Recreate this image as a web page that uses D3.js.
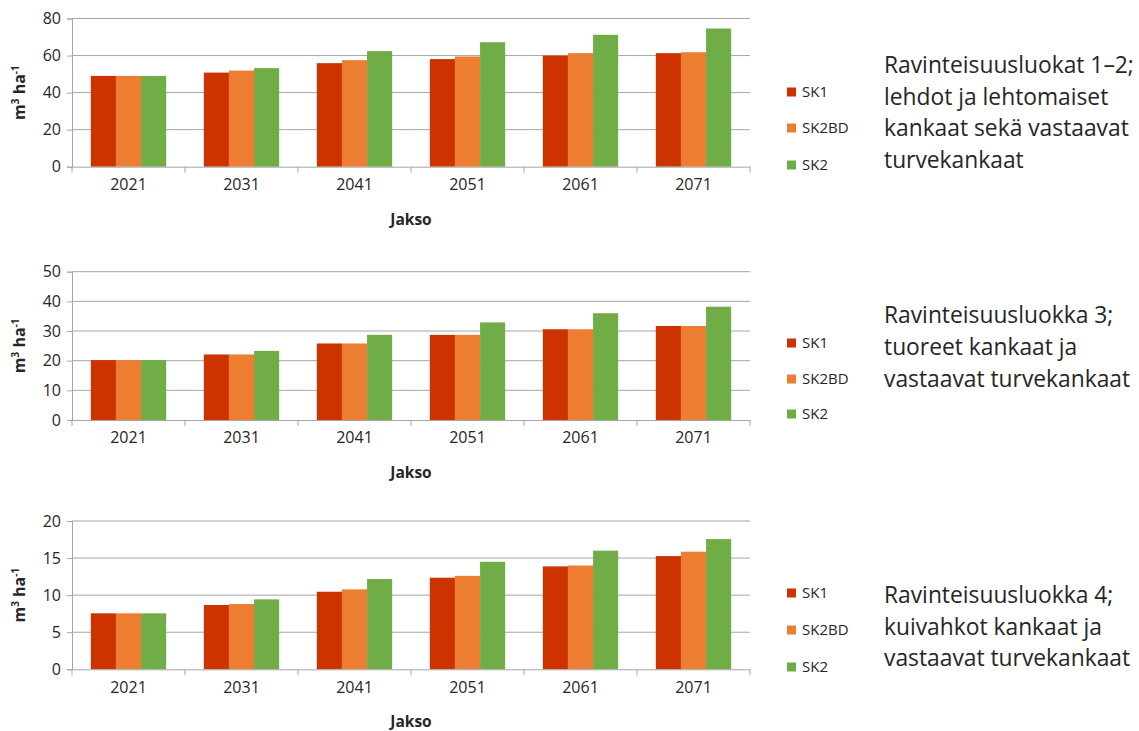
<!DOCTYPE html>
<html><head><meta charset="utf-8">
<script src="https://cdn.jsdelivr.net/npm/d3@7"></script>
<style>
body{margin:0;background:#fff;}
svg{display:block;}
text{font-family:"Open Sans",sans-serif;fill:#262626;}
</style></head>
<body>
<svg id="c" width="1139" height="731"></svg>
<script>
const categories = ["2021","2031","2041","2051","2061","2071"];
const seriesNames = ["SK1","SK2BD","SK2"];
const seriesColors = ["#cc3300","#ed7d31","#70ad47"];

// Panel 1: Ravinteisuusluokat 1–2
const p1SK1   = [49.0, 50.8, 55.9, 58.1, 60.0, 61.3];
const p1SK2BD = [49.0, 51.9, 57.5, 59.5, 61.3, 61.8];
const p1SK2   = [49.0, 53.2, 62.4, 67.2, 71.2, 74.6];
const p1Ticks = [0, 20, 40, 60, 80];
const p1Title = ["Ravinteisuusluokat 1–2;", "lehdot ja lehtomaiset", "kankaat sekä vastaavat", "turvekankaat"];

// Panel 2: Ravinteisuusluokka 3
const p2SK1   = [20.2, 22.1, 25.8, 28.7, 30.6, 31.7];
const p2SK2BD = [20.2, 22.1, 25.8, 28.7, 30.6, 31.7];
const p2SK2   = [20.2, 23.3, 28.7, 32.9, 36.0, 38.2];
const p2Ticks = [0, 10, 20, 30, 40, 50];
const p2Title = ["Ravinteisuusluokka 3;", "tuoreet kankaat ja", "vastaavat turvekankaat"];

// Panel 3: Ravinteisuusluokka 4
const p3SK1   = [7.55, 8.67, 10.46, 12.35, 13.88, 15.27];
const p3SK2BD = [7.55, 8.8, 10.78, 12.6, 14.0, 15.86];
const p3SK2   = [7.55, 9.43, 12.17, 14.5, 16.0, 17.56];
const p3Ticks = [0, 5, 10, 15, 20];
const p3Title = ["Ravinteisuusluokka 4;", "kuivahkot kankaat ja", "vastaavat turvekankaat"];

const xLabel = "Jakso";

const panels = [
  {series:[p1SK1,p1SK2BD,p1SK2], ticks:p1Ticks, title:p1Title, top:18.5, bottom:166.7, legendY:[92,128,165], titleY:[65,97,128,160]},
  {series:[p2SK1,p2SK2BD,p2SK2], ticks:p2Ticks, title:p2Title, top:271.7, bottom:420, legendY:[343,379,414], titleY:[315,347,379]},
  {series:[p3SK1,p3SK2BD,p3SK2], ticks:p3Ticks, title:p3Title, top:521, bottom:669.3, legendY:[593,630,667], titleY:[595,627,658]}
];

const svg = d3.select("#c");
const left = 72, right = 750;

panels.forEach(p => {
  const g = svg.append("g");
  const x = d3.scaleBand().domain(categories).range([left, right]).paddingInner(0).paddingOuter(0);
  const y = d3.scaleLinear().domain([p.ticks[0], p.ticks[p.ticks.length-1]]).range([p.bottom, p.top]);
  const groupW = x.bandwidth() / 1.5;
  const inner = d3.scaleBand().domain(seriesNames).range([0, groupW]).padding(0);

  // gridlines
  g.append("g").selectAll("line").data(p.ticks.filter(t => t !== p.ticks[0])).join("line")
    .attr("x1", left).attr("x2", right)
    .attr("y1", d => y(d)).attr("y2", d => y(d))
    .attr("stroke", "#a6a6a6").attr("stroke-width", 1);

  // y axis
  const ya = g.append("g").attr("transform", `translate(${left},0)`)
    .call(d3.axisLeft(y).tickValues(p.ticks).tickSize(5).tickPadding(6).tickFormat(d3.format("d")));
  ya.select(".domain").attr("stroke", "#a6a6a6");
  ya.selectAll(".tick line").attr("stroke", "#a6a6a6");
  ya.selectAll("text").style("font-size", "16px").style("font-family", "Open Sans").attr("fill", "#262626");

  // bars
  p.series.forEach((vals, si) => {
    g.append("g").selectAll("rect").data(vals).join("rect")
      .attr("x", (d, i) => x(categories[i]) + (x.bandwidth() - groupW) / 2 + inner(seriesNames[si]))
      .attr("width", inner.bandwidth())
      .attr("y", d => y(d))
      .attr("height", d => y(0) - y(d))
      .attr("fill", seriesColors[si]);
  });

  // x axis
  const xa = g.append("g").attr("transform", `translate(0,${p.bottom})`)
    .call(d3.axisBottom(x).tickSize(0).tickPadding(12));
  xa.select(".domain").attr("stroke", "#a6a6a6");
  xa.selectAll("text").style("font-size", "16px").style("font-family", "Open Sans").attr("fill", "#262626");
  const bounds = categories.map(c => x(c)).concat([right]);
  g.append("g").selectAll("line").data(bounds).join("line")
    .attr("x1", d => d).attr("x2", d => d)
    .attr("y1", p.bottom).attr("y2", p.bottom + 6)
    .attr("stroke", "#a6a6a6");

  // x label
  g.append("text").attr("x", (left + right) / 2).attr("y", p.bottom + 58)
    .attr("text-anchor", "middle").style("font-weight", "bold").style("font-size", "15.5px")
    .text(xLabel);

  // y label
  const yl = g.append("text")
    .attr("transform", `translate(25,${(p.top + p.bottom) / 2}) rotate(-90)`)
    .attr("text-anchor", "middle").style("font-weight", "bold").style("font-size", "16px");
  yl.append("tspan").text("m");
  yl.append("tspan").attr("dy", -6).style("font-size", "10px").text("3");
  yl.append("tspan").attr("dy", 6).text(" ha");
  yl.append("tspan").attr("dy", -6).style("font-size", "10px").text("-1");

  // legend
  const lg = g.append("g");
  seriesNames.forEach((s, si) => {
    lg.append("rect").attr("x", 787).attr("y", p.legendY[si] - 4.5).attr("width", 9).attr("height", 9)
      .attr("fill", seriesColors[si]);
    lg.append("text").attr("x", 802).attr("y", p.legendY[si]).attr("dy", "0.35em")
      .style("font-size", "15px").text(s);
  });

  // description
  p.title.forEach((t, i) => {
    g.append("text").attr("x", 884).attr("y", p.titleY[i]).attr("dy", "0.35em")
      .style("font-size", "22.8px").text(t);
  });
});
</script>
</body></html>
